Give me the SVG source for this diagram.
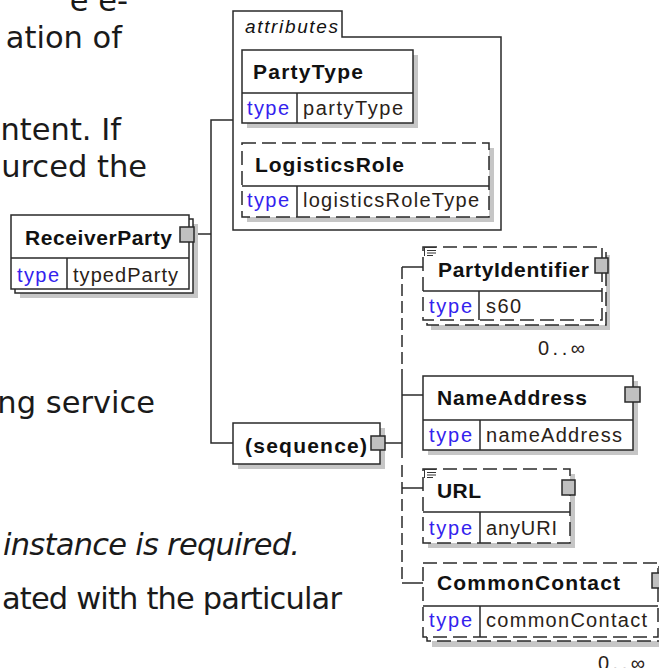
<svg xmlns="http://www.w3.org/2000/svg" width="659" height="668" viewBox="0 0 659 668">
<style>
.bg{font-family:"DejaVu Sans",Verdana,sans-serif;font-size:30.5px;fill:#1a1a1a}
.box{fill:#fff;stroke:#2a2a2a;stroke-width:1.5}
.dbox{fill:#fff;stroke:#2a2a2a;stroke-width:1.5;stroke-dasharray:14 6}
.sh{fill:#c6c6c6}
.ln{fill:none;stroke:#2a2a2a;stroke-width:1.5}
.dl{fill:none;stroke:#2a2a2a;stroke-width:1.5;stroke-dasharray:12 5}
.btn{fill:#c0c0c0;stroke:#2a2a2a;stroke-width:1.5}
.nm{font-family:"Liberation Sans",Arial,sans-serif;font-weight:bold;font-size:21px;fill:#111}
.ty{font-family:"Liberation Sans",Arial,sans-serif;font-size:20px;fill:#3322ee}
.va{font-family:"Liberation Sans",Arial,sans-serif;font-size:20px;fill:#2a2218}
.oc{font-family:"Liberation Sans",Arial,sans-serif;font-size:20px;fill:#2a2218}
.doc{fill:none;stroke:#333;stroke-width:1}
</style>

<g id="background-text">
<text class="bg" x="128" y="11" text-anchor="end">e e-</text>
<text class="bg" x="122" y="48" text-anchor="end">ation of</text>
<text class="bg" x="121" y="140" text-anchor="end">ntent. If</text>
<text class="bg" x="147" y="177" text-anchor="end">urced the</text>
<text class="bg" x="155" y="413" text-anchor="end">ng service</text>
<text class="bg" x="3" y="555" font-style="italic" textLength="297">instance is required.</text>
<text class="bg" x="2" y="609" textLength="340">ated with the particular</text>
</g>

<g id="connectors">
<path class="ln" d="M194,234 H211"/>
<path class="ln" d="M233,120 H211 V443 H233"/>
<path class="ln" d="M385,443 H402"/>
<path class="ln" d="M423,267 H402"/>
<path class="dl" d="M402,267 V380"/>
<path class="ln" d="M402,380 V458"/>
<path class="ln" d="M402,395 H423"/>
<path class="dl" d="M402,465 V583"/>
<path class="ln" d="M402,488 H423"/>
<path class="ln" d="M402,583 H423"/>
</g>

<g id="attributes">
<path class="box" d="M233,230 V11 H342 V37 H501 V230 Z"/>
<text x="245" y="33" font-family="Liberation Sans, Arial, sans-serif" font-style="italic" font-size="19" fill="#111" textLength="93">attributes</text>
</g>

<g id="PartyType">
<rect class="sh" x="247" y="55" width="171" height="73"/>
<rect class="box" x="242" y="50" width="171" height="73"/>
<path class="ln" d="M242,93 H413 M297,93 V123"/>
<text class="nm" x="253" y="79" textLength="110">PartyType</text>
<text class="ty" x="247" y="115" textLength="42">type</text>
<text class="va" x="303" y="115" textLength="100">partyType</text>
</g>

<g id="LogisticsRole">
<rect class="sh" x="247" y="148" width="247" height="74"/>
<rect class="dbox" x="242" y="143" width="247" height="74"/>
<path class="ln" d="M242,186 H489 M297,186 V217"/>
<text class="nm" x="255" y="172" textLength="149">LogisticsRole</text>
<text class="ty" x="247" y="207" textLength="42">type</text>
<text class="va" x="303" y="207" textLength="176">logisticsRoleType</text>
</g>

<g id="ReceiverParty">
<rect class="sh" x="20" y="224" width="178" height="74"/>
<rect class="box" x="15" y="219" width="178" height="74"/>
<rect class="box" x="11" y="215" width="178" height="74"/>
<path class="ln" d="M11,258 H189 M67,258 V289"/>
<text class="nm" x="25" y="245" textLength="147">ReceiverParty</text>
<text class="ty" x="17" y="282" textLength="42">type</text>
<text class="va" x="73" y="282" textLength="105">typedParty</text>
<rect class="btn" x="180" y="227" width="14" height="15"/>
</g>

<g id="sequence">
<rect class="sh" x="238" y="428" width="147" height="41"/>
<rect class="box" x="233" y="423" width="147" height="41"/>
<text class="nm" x="245" y="453" textLength="122">(sequence)</text>
<rect class="btn" x="371" y="436" width="14" height="14"/>
</g>

<g id="PartyIdentifier">
<rect class="sh" x="431" y="255" width="179" height="75"/>
<rect class="dbox" x="427" y="251" width="179" height="74"/>
<rect class="dbox" x="423" y="247" width="179" height="73"/>
<path class="ln" d="M423,291 H602 M479,291 V320"/>
<path class="doc" d="M424,247.5 H436 M424.5,247 V256 M427,250.5 H436 M427,253 H436 M427,255.5 H433"/>
<text class="nm" x="438" y="277" textLength="151">PartyIdentifier</text>
<text class="ty" x="429" y="313" textLength="43">type</text>
<text class="va" x="486" y="313" textLength="35">s60</text>
<rect class="btn" x="595" y="258" width="13" height="15"/>
<text class="oc" x="538" y="355" textLength="47">0..∞</text>
</g>

<g id="NameAddress">
<rect class="sh" x="428" y="381" width="210" height="74"/>
<rect class="box" x="423" y="376" width="210" height="74"/>
<path class="ln" d="M423,420 H633 M480,420 V450"/>
<text class="nm" x="437" y="405" textLength="150">NameAddress</text>
<text class="ty" x="429" y="442" textLength="43">type</text>
<text class="va" x="486" y="442" textLength="136">nameAddress</text>
<rect class="btn" x="625" y="387" width="15" height="15"/>
</g>

<g id="URL">
<rect class="sh" x="428" y="474" width="147" height="74"/>
<rect class="dbox" x="423" y="469" width="147" height="74"/>
<path class="ln" d="M423,512 H570 M480,512 V543"/>
<path class="doc" d="M424,469.5 H436 M424.5,469 V478 M427,472.5 H436 M427,475 H436 M427,477.5 H433"/>
<text class="nm" x="437" y="498" textLength="44">URL</text>
<text class="ty" x="429" y="535" textLength="43">type</text>
<text class="va" x="486" y="535" textLength="71">anyURI</text>
<rect class="btn" x="562" y="480" width="13" height="15"/>
</g>

<g id="CommonContact">
<rect class="sh" x="432" y="572" width="235" height="75"/>
<rect class="dbox" x="427" y="567" width="235" height="74"/>
<rect class="dbox" x="423" y="563" width="235" height="74"/>
<path class="ln" d="M423,606 H658 M480,606 V637"/>
<text class="nm" x="437" y="590" textLength="183">CommonContact</text>
<text class="ty" x="429" y="627" textLength="43">type</text>
<text class="va" x="486" y="627" textLength="161">commonContact</text>
<rect class="btn" x="652" y="573" width="13" height="15"/>
<text class="oc" x="598" y="670" textLength="47">0..∞</text>
</g>
</svg>
